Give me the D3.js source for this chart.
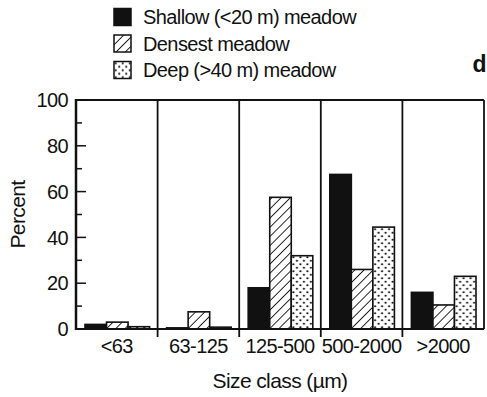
<!DOCTYPE html>
<html>
<head>
<meta charset="utf-8">
<script src="https://cdn.jsdelivr.net/npm/d3@7"></script>
<style>
body { margin: 0; background: #fff; }
svg text { font-family: "Liberation Sans", Arial, sans-serif; fill: #111; letter-spacing: -0.6px; }
</style>
</head>
<body>
<svg id="chart" width="487" height="397"></svg>
<script>
// size classes and the three meadows
var categories = ["<63", "63-125", "125-500", "500-2000", ">2000"];
var seriesNames = ["Shallow (<20 m) meadow", "Densest meadow", "Deep (>40 m) meadow"];
var shallow = [2, 0.5, 18, 67.5, 16];
var densest = [3, 7.5, 57.5, 26, 10.5];
var deep = [1, 0.8, 32, 44.5, 23];
var yTicks = [0, 20, 40, 60, 80, 100];
var yMinor = [10, 30, 50, 70, 90];

var svg = d3.select("#chart");
var plotLeft = 76, plotRight = 484, plotTop = 100, plotBottom = 329;

var x = d3.scaleBand().domain(categories).range([plotLeft, plotRight]);
var y = d3.scaleLinear().domain([0, 100]).range([plotBottom, plotTop]);
var sub = d3.scaleBand().domain([0, 1, 2]).range([9, x.bandwidth() - 8]);

// patterns
var defs = svg.append("defs");
var hatch = defs.append("pattern")
    .attr("id", "hatch")
    .attr("patternUnits", "userSpaceOnUse")
    .attr("width", 6.5).attr("height", 6.5)
    .attr("patternTransform", "rotate(45)");
hatch.append("rect").attr("width", 6.5).attr("height", 6.5).attr("fill", "#fff");
hatch.append("line")
    .attr("x1", 0).attr("y1", 0).attr("x2", 0).attr("y2", 6.5)
    .attr("stroke", "#111").attr("stroke-width", 1.8);

var dots = defs.append("pattern")
    .attr("id", "dots")
    .attr("patternUnits", "userSpaceOnUse")
    .attr("width", 7).attr("height", 7);
dots.append("rect").attr("width", 7).attr("height", 7).attr("fill", "#fff");
dots.append("circle").attr("cx", 1.75).attr("cy", 1.75).attr("r", 1.1).attr("fill", "#111");
dots.append("circle").attr("cx", 5.25).attr("cy", 5.25).attr("r", 1.1).attr("fill", "#111");

var fills = ["#111", "url(#hatch)", "url(#dots)"];
var values = [shallow, densest, deep];

// bars
var groups = svg.selectAll("g.cat")
    .data(categories)
    .enter().append("g")
    .attr("class", "cat")
    .attr("transform", function(d) { return "translate(" + x(d) + ",0)"; });

groups.selectAll("rect")
    .data(function(d, i) { return values.map(function(v, s) { return { s: s, v: v[i] }; }); })
    .enter().append("rect")
    .attr("x", function(d) { return sub(d.s); })
    .attr("width", sub.bandwidth())
    .attr("y", function(d) { return y(d.v); })
    .attr("height", function(d) { return plotBottom - y(d.v); })
    .attr("fill", function(d) { return fills[d.s]; })
    .attr("stroke", "#111")
    .attr("stroke-width", 1.6);

// frame: top line, baseline, dividers that poke below the baseline
svg.append("line")
    .attr("x1", plotLeft).attr("x2", plotRight).attr("y1", plotTop).attr("y2", plotTop)
    .attr("stroke", "#111").attr("stroke-width", 2);
svg.append("line")
    .attr("x1", plotLeft).attr("x2", plotRight).attr("y1", plotBottom).attr("y2", plotBottom)
    .attr("stroke", "#111").attr("stroke-width", 2);
svg.selectAll("line.div")
    .data(categories.slice(1).concat(["end"]))
    .enter().append("line")
    .attr("class", "div")
    .attr("x1", function(d) { return d === "end" ? plotRight : x(d); })
    .attr("x2", function(d) { return d === "end" ? plotRight : x(d); })
    .attr("y1", plotTop)
    .attr("y2", function(d) { return d === "end" ? plotBottom : plotBottom + 8; })
    .attr("stroke", "#111").attr("stroke-width", 1.8);

// y axis with inward ticks
var yAxis = svg.append("g").attr("transform", "translate(" + plotLeft + ",0)");
yAxis.append("line")
    .attr("y1", plotTop - 1).attr("y2", plotBottom + 1)
    .attr("stroke", "#111").attr("stroke-width", 2.5);
yAxis.selectAll("line.major")
    .data(yTicks).enter().append("line")
    .attr("class", "major")
    .attr("x1", 0).attr("x2", 10)
    .attr("y1", function(d) { return y(d); }).attr("y2", function(d) { return y(d); })
    .attr("stroke", "#111").attr("stroke-width", 1.5);
yAxis.selectAll("line.minor")
    .data(yMinor).enter().append("line")
    .attr("class", "minor")
    .attr("x1", 0).attr("x2", 6)
    .attr("y1", function(d) { return y(d); }).attr("y2", function(d) { return y(d); })
    .attr("stroke", "#111").attr("stroke-width", 1.5);
yAxis.selectAll("text")
    .data(yTicks).enter().append("text")
    .attr("x", -8)
    .attr("y", function(d) { return y(d); })
    .attr("dy", "0.36em")
    .attr("text-anchor", "end")
    .style("font-size", "20px")
    .text(function(d) { return d; });

// x labels
svg.selectAll("text.xl")
    .data(categories).enter().append("text")
    .attr("class", "xl")
    .attr("x", function(d) { return x(d) + x.bandwidth() / 2; })
    .attr("y", 353)
    .attr("text-anchor", "middle")
    .style("font-size", "20px")
    .text(function(d) { return d; });

svg.append("text")
    .attr("x", (plotLeft + plotRight) / 2)
    .attr("y", 388)
    .attr("text-anchor", "middle")
    .style("font-size", "21px")
    .text("Size class (\u00b5m)");

svg.append("text")
    .attr("transform", "translate(25," + (plotTop + plotBottom) / 2 + ") rotate(-90)")
    .attr("text-anchor", "middle")
    .style("font-size", "21px")
    .text("Percent");

// legend
var legend = svg.selectAll("g.leg")
    .data(seriesNames).enter().append("g")
    .attr("class", "leg")
    .attr("transform", function(d, i) { return "translate(114," + (8.5 + i * 26.5) + ")"; });
legend.append("rect")
    .attr("width", 17).attr("height", 17)
    .attr("fill", function(d, i) { return fills[i]; })
    .attr("stroke", "#111").attr("stroke-width", 1.5);
legend.append("text")
    .attr("x", 29).attr("y", 8.5)
    .attr("dy", "0.36em")
    .style("font-size", "20px")
    .text(function(d) { return d; });

svg.append("text")
    .attr("x", 486).attr("y", 72)
    .attr("text-anchor", "end")
    .style("font-size", "23px")
    .style("font-weight", "bold")
    .text("d");
</script>
</body>
</html>
